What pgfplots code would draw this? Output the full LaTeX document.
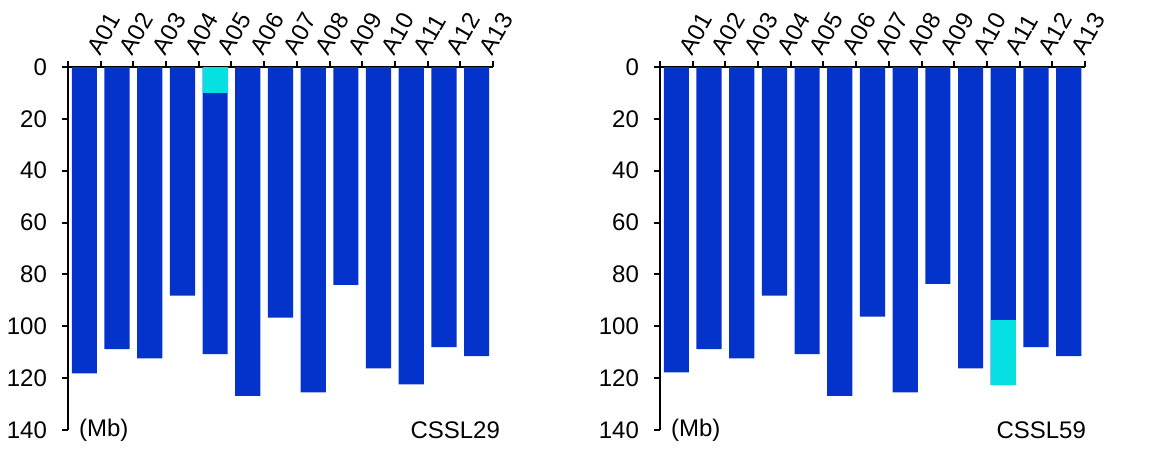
\documentclass[border=0pt]{standalone}
\usepackage{fontspec}
\setmainfont{Liberation Sans}
\usepackage{pgfplots}
\pgfplotsset{compat=1.18}
\definecolor{barblue}{HTML}{0433CC}
\definecolor{barcyan}{HTML}{07E0E2}
\pgfplotsset{chrom/.style={
  scale only axis, width=212.5pt, height=181.5pt,
  anchor=south west, clip=false,
  y dir=reverse, ymin=0, ymax=140, xmin=0.5, xmax=13.5,
  axis x line*=top, axis y line*=left,
  xtick={1,...,13},
  xticklabels={A01,A02,A03,A04,A05,A06,A07,A08,A09,A10,A11,A12,A13},
  xticklabel style={xshift=2.5pt, yshift=1.5pt, rotate=60, anchor=west},
  major x tick style={draw=none},
  minor xtick={0.5,1.5,...,13.5},
  ytick={0,20,...,140},
  yticklabel style={xshift=-4pt},
  tick align=outside, major tick length=3pt, minor tick length=3pt,
  tick style={black, line width=1pt},
  axis line style={black, line width=1pt},
  ybar, bar width=0.77, bar shift=0pt,
  /pgf/number format/assume math mode=true,
  ticklabel style={font=\fontsize{12}{14}\selectfont},
}}
\begin{document}
\begin{tikzpicture}
\useasboundingbox (0,0) rectangle (580pt,225pt);
\begin{axis}[chrom, at={(34pt,10pt)}]
\addplot[fill=barblue, draw=none] coordinates {(1,118.2) (2,108.8) (3,112.4) (4,88.2) (5,110.7) (6,126.8) (7,96.7) (8,125.5) (9,84.0) (10,116.2) (11,122.4) (12,108.0) (13,111.5)};
\addplot[fill=barcyan, draw=none] coordinates {(5,9.9)};
\node[anchor=west, xshift=2pt, font=\fontsize{12}{14}\selectfont] at (axis cs:0.5,140) {(Mb)};
\node[anchor=east, xshift=7pt, font=\fontsize{12}{14}\selectfont] at (axis cs:13.5,140) {CSSL29};
\end{axis}
\begin{axis}[chrom, at={(330pt,10pt)}]
\addplot[fill=barblue, draw=none] coordinates {(1,117.8) (2,108.8) (3,112.4) (4,88.2) (5,110.7) (6,126.8) (7,96.3) (8,125.5) (9,83.6) (10,116.2) (11,122.7) (12,108.0) (13,111.5)};
\addplot[fill=barcyan, draw=none] coordinates {(11,122.7)};
\addplot[fill=barblue, draw=none] coordinates {(11,97.6)};
\node[anchor=west, xshift=2pt, font=\fontsize{12}{14}\selectfont] at (axis cs:0.5,140) {(Mb)};
\node[anchor=east, xshift=4pt, font=\fontsize{12}{14}\selectfont] at (axis cs:13.5,140) {CSSL59};
\end{axis}
\end{tikzpicture}
\end{document}
